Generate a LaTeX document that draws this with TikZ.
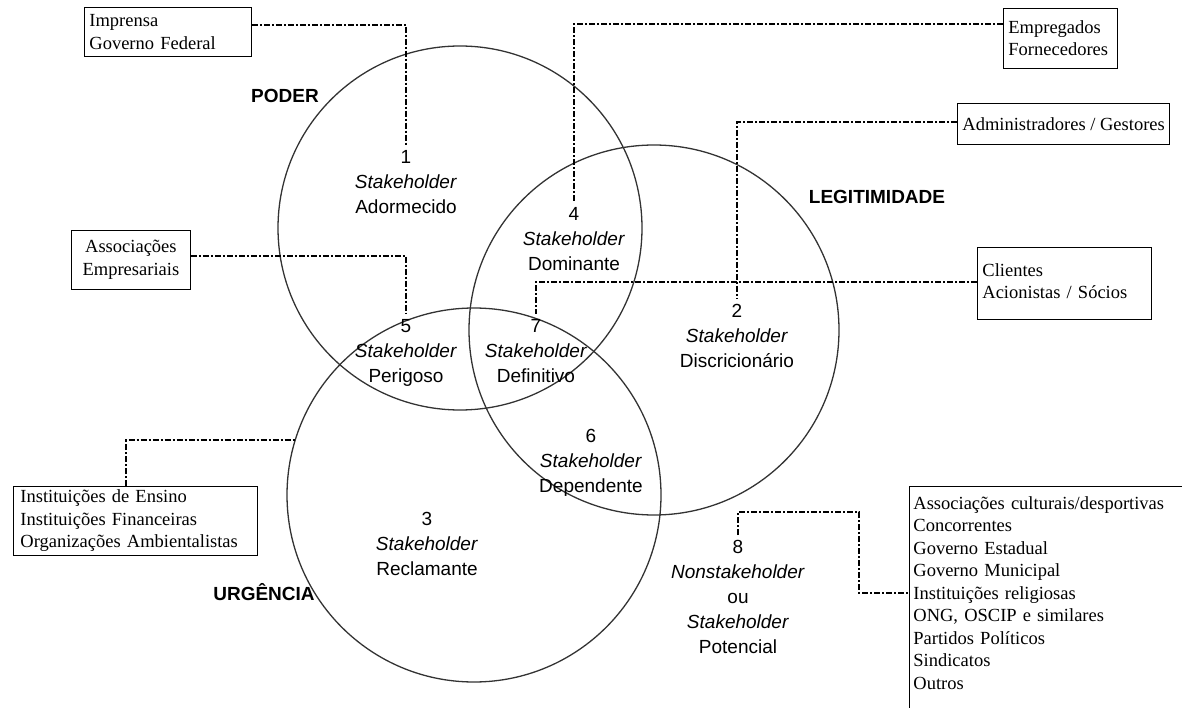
\documentclass[tikz,border=0pt]{standalone}
\usepackage{fontspec}
\setmainfont{Liberation Serif}
\setsansfont{Liberation Sans}

\begin{document}
\begin{tikzpicture}[x=1pt,y=-1pt,
  set/.style={draw=black!80,line width=1.3pt,circle,inner sep=0pt},
  area/.style={font=\sffamily\fontsize{19}{25}\selectfont,align=center,anchor=north,inner xsep=0pt,inner ysep=5pt},
  title/.style={font=\sffamily\bfseries\fontsize{19}{23}\selectfont},
  group/.style={draw,line width=0.8pt,font=\fontsize{18.5}{22.5}\selectfont,anchor=north west,inner xsep=5pt,inner ysep=3pt,align=left},
  link/.style={line width=2pt,dash pattern=on 6pt off 2pt on 2pt off 2pt}]
\useasboundingbox (0,0) rectangle (1183,708);
% os tres atributos
\node[set,minimum size=364pt] (poder) at (460,228) {};
\node[set,minimum size=370pt] (legit) at (654,330) {};
\node[set,minimum size=374pt] (urg) at (474,495) {};
\node[title] (tpoder) at (285,96) {PODER};
\node[title] (tlegit) at (877,197) {LEGITIMIDADE};
\node[title] (turg) at (264,592) {URGÊNCIA};
% classes de stakeholders
\node[area] (n1) at (406,145) {1\\\textit{Stakeholder}\\Adormecido};
\node[area] (n4) at (574,202) {4\\\textit{Stakeholder}\\Dominante};
\node[area] (n2) at (737,299) {2\\\textit{Stakeholder}\\Discricionário};
\node[area] (n5) at (406,314) {5\\\textit{Stakeholder}\\Perigoso};
\node[area] (n7) at (536,314) {7\\\textit{Stakeholder}\\Definitivo};
\node[area] (n6) at (591,424) {6\\\textit{Stakeholder}\\Dependente};
\node[area] (n3) at (427,507) {3\\\textit{Stakeholder}\\Reclamante};
\node[area] (n8) at (738,535) {8\\\textit{Nonstakeholder}\\ou\\\textit{Stakeholder}\\Potencial};
% grupos
\node[group,text width=157pt,minimum height=49pt] (imprensa) at (84,7) {Imprensa\\Governo Federal};
\node[group,text width=104pt,minimum height=60pt] (empregados) at (1003,8) {Empregados\\Fornecedores};
\node[group,minimum height=41pt] (admin) at (957,103) {Administradores / Gestores};
\node[group,text width=109pt,minimum height=59pt,align=center] (assoc) at (71,230) {Associações\\Empresariais};
\node[group,text width=164pt,minimum height=72pt,text depth=27pt] (clientes) at (977,247) {Clientes\\Acionistas / Sócios};
\node[group,text width=230pt,inner xsep=7pt,minimum height=69pt] (inst) at (13,486) {Instituições de Ensino\\Instituições Financeiras\\Organizações Ambientalistas};
\node[group,draw=none,text width=264pt,inner xsep=4pt,inner ysep=10pt] (others) at (909,486) {Associações culturais/desportivas\\Concorrentes\\Governo Estadual\\Governo Municipal\\Instituições religiosas\\ONG, OSCIP e similares\\Partidos Políticos\\Sindicatos\\Outros};
\draw[line width=0.8pt] (others.north east) -- (others.north west) -- (others.north west |- 0,708);
% ligacoes
\draw[link] ([yshift=7pt]imprensa.east) -| (n1.north);
\draw[link] ([yshift=14pt]empregados.west) -| (n4.north);
\draw[link] ([yshift=2pt]admin.west) -| (n2.north);
\draw[link] ([yshift=4pt]assoc.east) -| (n5.north);
\draw[link] ([yshift=1pt]clientes.west) -| (n7.north);
\draw[link] ([xshift=-9pt]inst.north) |- (urg.163);
\coordinate (bend8) at (859,512);
\draw[link] (n8.north) |- (bend8) |- (others.north west |- 0,593);
\end{tikzpicture}
\end{document}
